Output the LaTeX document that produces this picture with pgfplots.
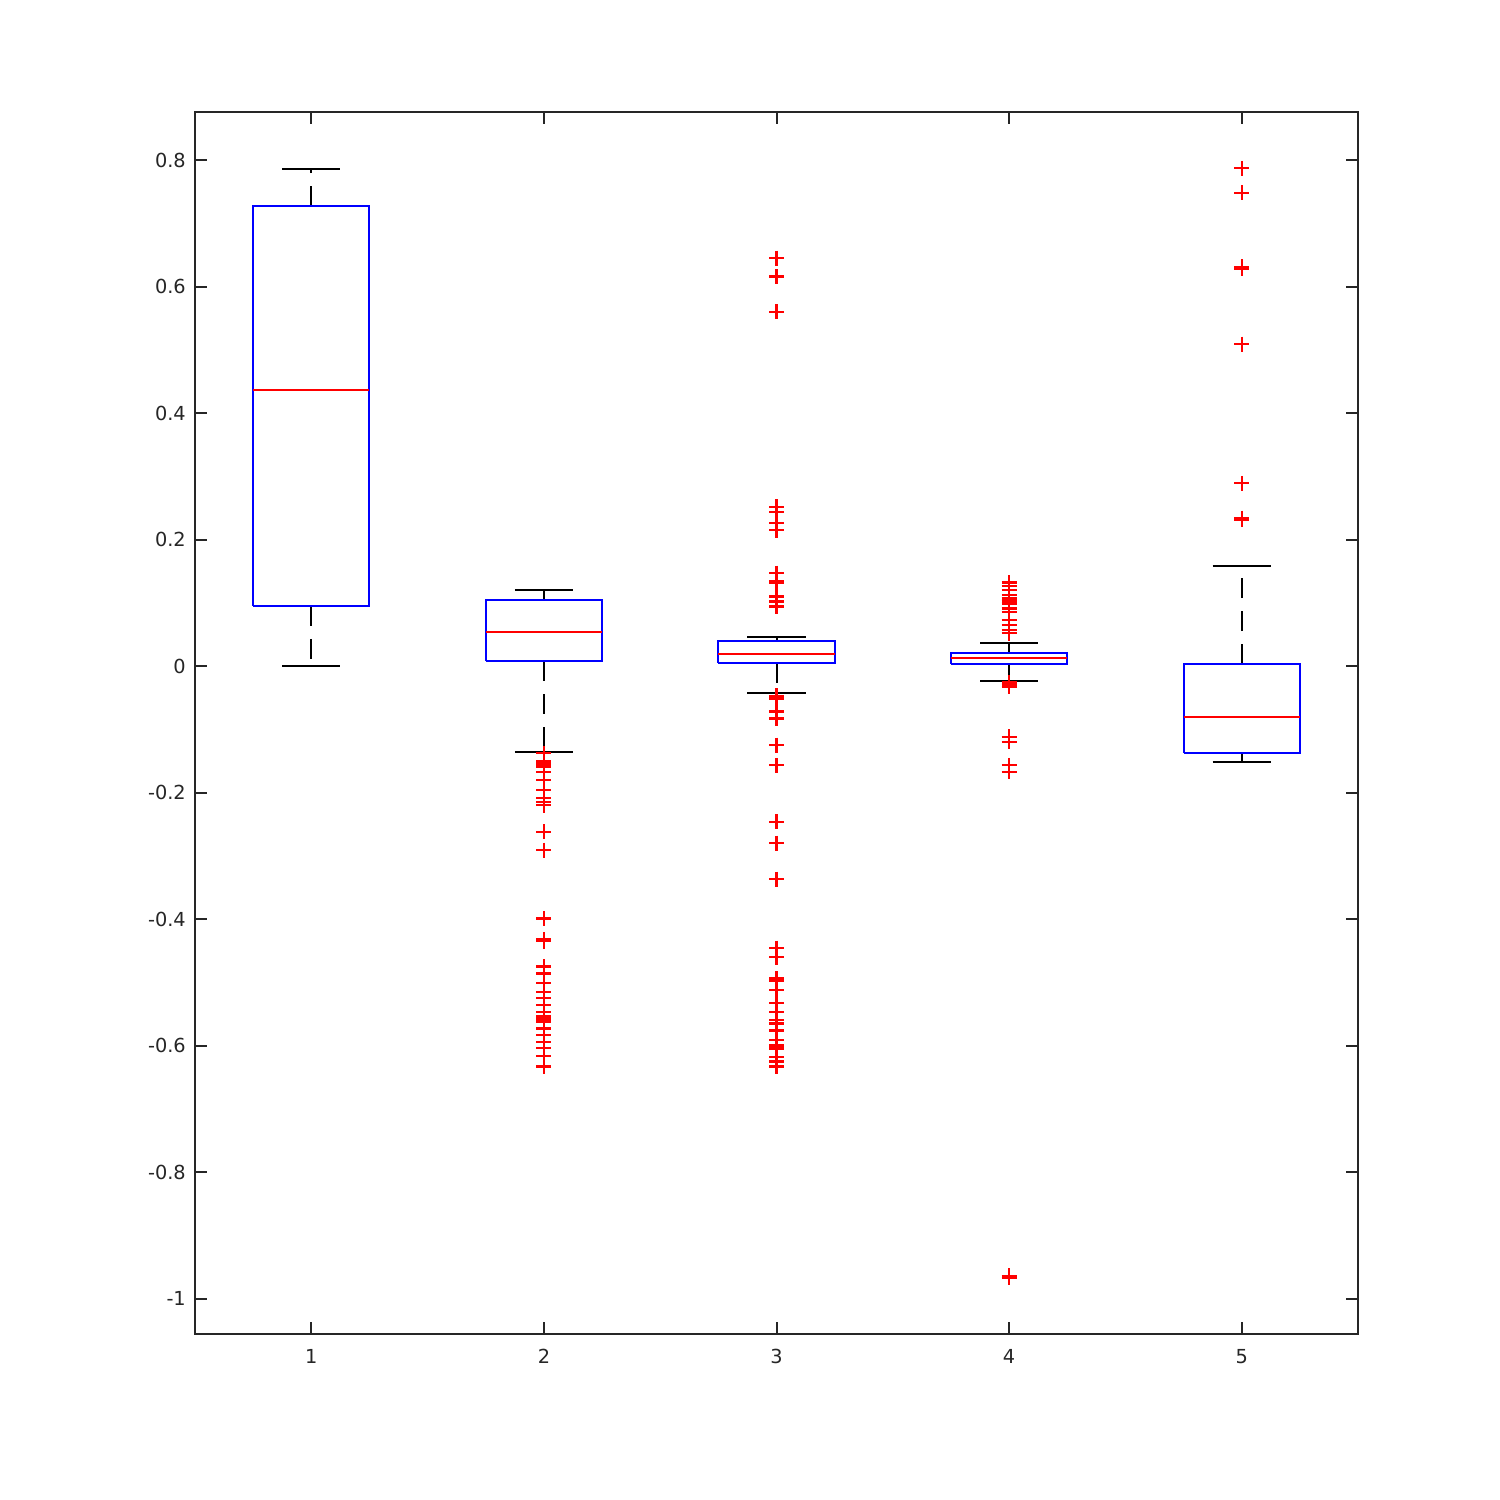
\documentclass[border=0pt]{standalone}
\usepackage{pgfplots}
\pgfplotsset{compat=1.18}
\usepackage{fontspec}
\setmainfont{DejaVu Sans}
\definecolor{axgray}{rgb}{0.15,0.15,0.15}
\begin{document}
\begin{tikzpicture}
\useasboundingbox (-3.9cm,-3.32cm) rectangle (26.1cm,26.68cm);
\begin{axis}[
  scale only axis, width=23.26cm, height=24.44cm,
  xmin=0.5, xmax=5.5, ymin=-1.056, ymax=0.876,
  xtick={1,2,3,4,5}, xticklabels={1,2,3,4,5},
  ytick={-1,-0.8,-0.6,-0.4,-0.2,0,0.2,0.4,0.6,0.8},
  yticklabels={-1,-0.8,-0.6,-0.4,-0.2,0,0.2,0.4,0.6,0.8},
  tick align=inside, major tick length=2.4mm,
  axis line style={line width=0.4mm, color=axgray},
  every tick/.style={line width=0.4mm, color=axgray},
  tick label style={font=\fontsize{11}{13}\selectfont, text=axgray},
  xticklabel style={yshift=-1.8mm},
  yticklabel style={xshift=-0.6mm},
  /pgf/number format/assume math mode=true,
]
\pgfplotsset{wh/.style={black, line width=0.4mm, dash pattern=on 4mm off 2.6mm}, cap/.style={black, line width=0.4mm},
  bx/.style={blue, line width=0.4mm}, md/.style={red, line width=0.4mm},
  ol/.style={only marks, red, mark=+, mark size=1.5mm, mark options={line width=0.45mm}}}
% Box 1
\addplot[wh] coordinates {(1,0.727) (1,0.786)};
\addplot[wh] coordinates {(1,0.095) (1,0.0)};
\addplot[cap] coordinates {(0.875,0.786) (1.125,0.786)};
\addplot[cap] coordinates {(0.875,0.0) (1.125,0.0)};
\addplot[bx] coordinates {(0.75,0.095) (1.25,0.095) (1.25,0.727) (0.75,0.727) (0.75,0.095)};
\addplot[md] coordinates {(0.75,0.436) (1.25,0.436)};
% Box 2
\addplot[wh] coordinates {(2,0.104) (2,0.120)};
\addplot[wh] coordinates {(2,0.008) (2,-0.136)};
\addplot[cap] coordinates {(1.875,0.120) (2.125,0.120)};
\addplot[cap] coordinates {(1.875,-0.136) (2.125,-0.136)};
\addplot[bx] coordinates {(1.75,0.008) (2.25,0.008) (2.25,0.104) (1.75,0.104) (1.75,0.008)};
\addplot[md] coordinates {(1.75,0.054) (2.25,0.054)};
\addplot[ol] coordinates {
 (2,-0.138) (2,-0.150) (2,-0.153) (2,-0.155) (2,-0.157) (2,-0.159) (2,-0.167) (2,-0.180)
 (2,-0.196) (2,-0.209) (2,-0.215) (2,-0.220) (2,-0.262) (2,-0.291) (2,-0.399)
 (2,-0.432) (2,-0.435) (2,-0.475) (2,-0.486) (2,-0.501) (2,-0.515) (2,-0.525)
 (2,-0.536) (2,-0.547) (2,-0.554) (2,-0.558) (2,-0.562) (2,-0.573) (2,-0.583)
 (2,-0.594) (2,-0.604) (2,-0.617) (2,-0.633)};
% Box 3
\addplot[wh] coordinates {(3,0.040) (3,0.046)};
\addplot[wh] coordinates {(3,0.005) (3,-0.043)};
\addplot[cap] coordinates {(2.875,0.046) (3.125,0.046)};
\addplot[cap] coordinates {(2.875,-0.043) (3.125,-0.043)};
\addplot[bx] coordinates {(2.75,0.005) (3.25,0.005) (3.25,0.040) (2.75,0.040) (2.75,0.005)};
\addplot[md] coordinates {(2.75,0.019) (3.25,0.019)};
\addplot[ol] coordinates {
 (3,0.645) (3,0.616) (3,0.560) (3,0.252) (3,0.244) (3,0.226) (3,0.215)
 (3,0.147) (3,0.135) (3,0.131) (3,0.110) (3,0.102) (3,0.094)
 (3,-0.047) (3,-0.050) (3,-0.052) (3,-0.072) (3,-0.083) (3,-0.125) (3,-0.157)
 (3,-0.246) (3,-0.280) (3,-0.337) (3,-0.446) (3,-0.460) (3,-0.494) (3,-0.498)
 (3,-0.512) (3,-0.533) (3,-0.547) (3,-0.560) (3,-0.565) (3,-0.576) (3,-0.591)
 (3,-0.599) (3,-0.603) (3,-0.606) (3,-0.618) (3,-0.625) (3,-0.633)};
% Box 4
\addplot[wh] coordinates {(4,0.020) (4,0.037)};
\addplot[wh] coordinates {(4,0.003) (4,-0.024)};
\addplot[cap] coordinates {(3.875,0.037) (4.125,0.037)};
\addplot[cap] coordinates {(3.875,-0.024) (4.125,-0.024)};
\addplot[bx] coordinates {(3.75,0.003) (4.25,0.003) (4.25,0.020) (3.75,0.020) (3.75,0.003)};
\addplot[md] coordinates {(3.75,0.012) (4.25,0.012)};
\addplot[ol] coordinates {
 (4,0.132) (4,0.126) (4,0.120) (4,0.112) (4,0.108) (4,0.105) (4,0.102) (4,0.099)
 (4,0.091) (4,0.086) (4,0.073) (4,0.065) (4,0.057) (4,0.052)
 (4,-0.026) (4,-0.028) (4,-0.030) (4,-0.033) (4,-0.112) (4,-0.120) (4,-0.157) (4,-0.167)
 (4,-0.964) (4,-0.967)};
% Box 5
\addplot[wh] coordinates {(5,0.003) (5,0.158)};
\addplot[wh] coordinates {(5,-0.138) (5,-0.152)};
\addplot[cap] coordinates {(4.875,0.158) (5.125,0.158)};
\addplot[cap] coordinates {(4.875,-0.152) (5.125,-0.152)};
\addplot[bx] coordinates {(4.75,-0.138) (5.25,-0.138) (5.25,0.003) (4.75,0.003) (4.75,-0.138)};
\addplot[md] coordinates {(4.75,-0.081) (5.25,-0.081)};
\addplot[ol] coordinates {
 (5,0.787) (5,0.748) (5,0.628) (5,0.631) (5,0.509) (5,0.289) (5,0.231) (5,0.234)};
\end{axis}
\end{tikzpicture}
\end{document}
